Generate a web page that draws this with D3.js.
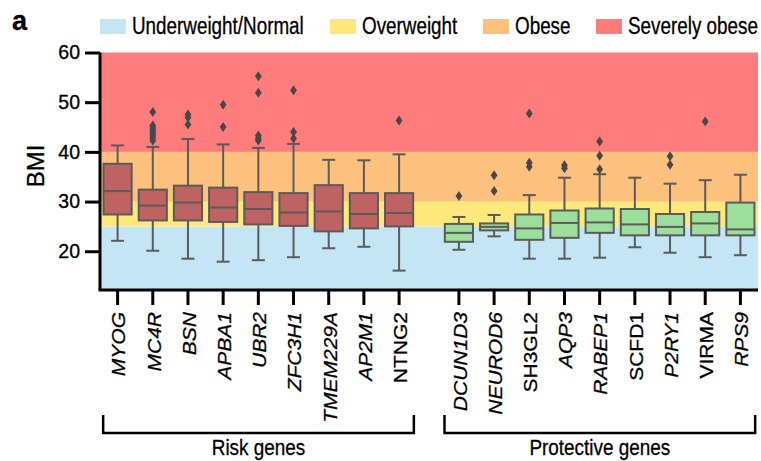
<!DOCTYPE html>
<html><head><meta charset="utf-8">
<script src="https://cdn.jsdelivr.net/npm/d3@7"></script>
<style>body{margin:0;background:#fff}svg{display:block}text{font-family:"Liberation Sans",Arial,sans-serif;fill:#000;stroke:#000;stroke-width:0.3px}</style>
</head><body><svg id="c" width="761" height="461"></svg>
<script>
const genes = ["MYOG","MC4R","BSN","APBA1","UBR2","ZFC3H1","TMEM229A","AP2M1","NTNG2","DCUN1D3","NEUROD6","SH3GL2","AQP3","RABEP1","SCFD1","P2RY1","VIRMA","RPS9"];
const geneGroup = ["risk","risk","risk","risk","risk","risk","risk","risk","risk","prot","prot","prot","prot","prot","prot","prot","prot","prot"];
const italicLabel = [true,true,true,true,true,true,true,true,false,true,true,false,true,true,false,true,false,true];
const whiskLow = [22.1,20.1,18.5,17.9,18.2,18.8,20.6,20.9,16.1,20.3,23.0,18.5,18.5,18.7,20.8,19.7,18.8,19.2];
const q1 = [27.4,26.2,26.2,25.9,25.4,25.1,24.0,24.6,25.0,21.9,24.2,22.3,22.7,23.7,23.2,23.2,23.2,23.2];
const median = [32.1,29.2,29.8,28.8,28.5,27.8,28.0,27.5,27.7,23.7,24.9,24.6,25.7,25.8,25.4,24.9,25.6,24.4];
const q3 = [37.6,32.4,33.2,32.8,31.9,31.7,33.3,31.7,31.7,25.5,25.6,27.4,28.2,28.6,28.5,27.5,27.9,29.8];
const whiskHigh = [41.3,41.0,42.6,41.5,40.8,41.6,38.4,38.3,39.5,26.9,27.3,31.3,34.8,35.5,34.8,33.6,34.3,35.4];
const outliers = [[],[48.0,45.3,44.8,44.3,43.8,43.3,42.8,42.3],[47.5,46.9,45.5],[49.5,45.0],[55.2,51.9,43.3,42.7,42.3],[52.4,44.0,42.7],[],[],[46.3],[31.1],[35.3,32.1],[47.7,37.8,37.0],[37.3,36.7],[42.1,39.2,36.5],[],[39.1,37.4],[46.1],[]];
const bandNames = ["Underweight/Normal","Overweight","Obese","Severely obese"];
const bandLow = [0,25,30,40];
const bandHigh = [25,30,40,60];
const bandColors = ["#c4e5f4","#fee87c","#fdc17d","#ff7c7c"];
const groupNames = ["Risk genes","Protective genes"];
const groupKeys = ["risk","prot"];
const groupFill = {risk:"#bf6262",prot:"#9cde9b"};
const yTicks = [20,30,40,50,60];

const svg = d3.select("#c");
const L = 100, R = 758, T = 52.5, B = 290;
const y = d3.scaleLinear().domain([12.2,60]).range([B,T]);
const gap = 0.7;
const xPos = i => geneGroup[i]==="risk" ? i : i + gap;
const x = d3.scaleLinear().domain([-0.5, 17 + gap + 0.5]).range([L,R]);
const step = x(1)-x(0);
const bw = step*0.8;

// bands
svg.append("g").selectAll("rect").data(bandNames).join("rect")
  .attr("x",L).attr("width",R-L)
  .attr("y",(d,i)=>y(Math.min(bandHigh[i],60)))
  .attr("height",(d,i)=>y(Math.max(bandLow[i],12.2))-y(Math.min(bandHigh[i],60)))
  .attr("fill",(d,i)=>bandColors[i]);

// boxes
const stroke="#5b5b5b", sw=2;
const bx = svg.append("g");
genes.forEach((g,i)=>{
  const cx = x(xPos(i));
  const gg = bx.append("g");
  gg.append("line").attr("x1",cx).attr("x2",cx).attr("y1",y(whiskHigh[i])).attr("y2",y(q3[i])).attr("stroke",stroke).attr("stroke-width",sw);
  gg.append("line").attr("x1",cx).attr("x2",cx).attr("y1",y(q1[i])).attr("y2",y(whiskLow[i])).attr("stroke",stroke).attr("stroke-width",sw);
  [whiskHigh[i],whiskLow[i]].forEach(v=>gg.append("line").attr("x1",cx-6.5).attr("x2",cx+6.5).attr("y1",y(v)).attr("y2",y(v)).attr("stroke",stroke).attr("stroke-width",sw));
  gg.append("rect").attr("x",cx-bw/2).attr("width",bw).attr("y",y(q3[i])).attr("height",y(q1[i])-y(q3[i]))
    .attr("fill",groupFill[geneGroup[i]]).attr("stroke",stroke).attr("stroke-width",sw);
  gg.append("line").attr("x1",cx-bw/2).attr("x2",cx+bw/2).attr("y1",y(median[i])).attr("y2",y(median[i])).attr("stroke",stroke).attr("stroke-width",sw);
  outliers[i].forEach(v=>{
    const yy=y(v);
    gg.append("path").attr("d",`M${cx},${yy-5}L${cx+3.4},${yy}L${cx},${yy+5}L${cx-3.4},${yy}Z`).attr("fill","#484848");
  });
});

// axes
const yAxis = svg.append("g").attr("transform",`translate(${L},0)`)
  .call(d3.axisLeft(y).tickValues(yTicks).tickSize(15).tickPadding(5).tickSizeOuter(0));
yAxis.select(".domain").attr("d",`M0,${T}V${B}`).attr("stroke","#000").attr("stroke-width",3);
yAxis.selectAll(".tick line").attr("stroke","#000").attr("stroke-width",3);
yAxis.selectAll(".tick text").attr("font-size","19.5px").attr("fill","#000").attr("font-family",null);

const xa = svg.append("g").attr("transform",`translate(0,${B})`);
xa.append("line").attr("x1",L-1.5).attr("x2",R).attr("y1",0).attr("y2",0).attr("stroke","#000").attr("stroke-width",3);
genes.forEach((g,i)=>{
  const cx = x(xPos(i));
  xa.append("line").attr("x1",cx).attr("x2",cx).attr("y1",0).attr("y2",15).attr("stroke","#000").attr("stroke-width",3);
  xa.append("text").attr("transform",`translate(${cx+1},22) scale(0.9,1) rotate(-90)`).attr("text-anchor","end").attr("dy","0.36em")
    .attr("font-size","21px").attr("font-style",italicLabel[i]?"italic":"normal").text(g);
});

svg.append("text").attr("transform",`translate(35,166) rotate(-90)`).attr("text-anchor","middle").attr("dy","0.36em")
  .attr("font-size","24px").text("BMI");

// brackets
groupKeys.forEach((k,j)=>{
  const idx = geneGroup.map((g,i)=>g===k?i:-1).filter(i=>i>=0);
  const x0 = x(xPos(idx[0])-0.41), x1 = x(xPos(idx[idx.length-1])+0.42);
  svg.append("path").attr("d",`M${x0},415V433H${x1}V415`).attr("fill","none").attr("stroke","#000").attr("stroke-width",2.5);
  svg.append("text").attr("transform",`translate(${(x0+x1)/2},455) scale(0.86,1)`).attr("text-anchor","middle").attr("font-size","22px").text(groupNames[j]);
});

// legend
const legX = [100,330,483,596];
const lg = svg.append("g");
bandNames.forEach((n,i)=>{
  lg.append("rect").attr("x",legX[i]).attr("y",19).attr("width",26).attr("height",15).attr("fill",bandColors[i]);
  lg.append("text").attr("transform",`translate(${legX[i]+32},33.5) scale(0.82,1)`).attr("font-size","23px").text(n);
});
svg.append("text").attr("x",12).attr("y",30).attr("font-size","27px").attr("font-weight","bold").text("a");
</script></body></html>
